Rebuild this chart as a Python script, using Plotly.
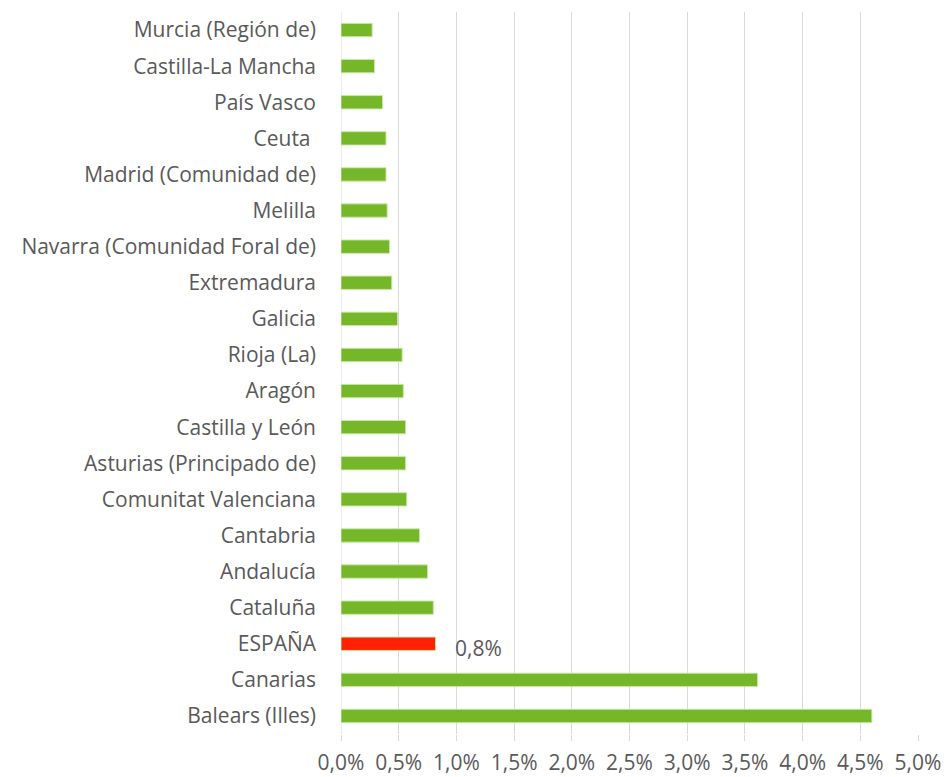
import plotly.graph_objects as go

regions = [
    "Murcia (Región de)", "Castilla-La Mancha", "País Vasco", "Ceuta ",
    "Madrid (Comunidad de)", "Melilla", "Navarra (Comunidad Foral de)",
    "Extremadura", "Galicia", "Rioja (La)", "Aragón", "Castilla y León",
    "Asturias (Principado de)", "Comunitat Valenciana", "Cantabria",
    "Andalucía", "Cataluña", "ESPAÑA", "Canarias", "Balears (Illes)",
]
values = [0.27, 0.29, 0.36, 0.39, 0.39, 0.40, 0.42, 0.44, 0.49, 0.53,
          0.54, 0.56, 0.56, 0.57, 0.68, 0.75, 0.80, 0.82, 3.61, 4.60]
highlight = "ESPAÑA"
highlight_label = "0,8%"
x_ticks = [0, 0.5, 1, 1.5, 2, 2.5, 3, 3.5, 4, 4.5, 5]
x_ticktext = [f"{v:.1f}%".replace(".", ",") for v in x_ticks]

GREEN = "#76B72A"
RED = "#FF2200"
TEXT = "#595959"
FONT = "Open Sans, sans-serif"
colors = [RED if r == highlight else GREEN for r in regions]

fig = go.Figure(go.Bar(
    y=regions, x=values, orientation="h",
    marker=dict(color=colors, line=dict(color="rgba(200,235,170,0.9)", width=1)),
    width=0.37,
))

hi = regions.index(highlight)
fig.add_annotation(x=values[hi], y=regions[hi], text=highlight_label,
                   xanchor="left", xshift=17, yshift=-4, showarrow=False,
                   font=dict(family=FONT, size=21, color=TEXT))

fig.update_layout(
    width=948, height=777,
    margin=dict(l=341, r=30, t=12, b=43),
    plot_bgcolor="white", paper_bgcolor="white",
    showlegend=False,
    font=dict(family=FONT, size=21, color=TEXT),
)
fig.update_xaxes(
    range=[0, 5], tickvals=x_ticks, ticktext=x_ticktext,
    showgrid=True, gridcolor="#D9D9D9", gridwidth=1,
    zeroline=False, ticks="outside", ticklen=6, tickcolor="#D9D9D9",
    ticklabelstandoff=4, showline=False, fixedrange=True, automargin=False,
)
fig.update_yaxes(
    categoryorder="array", categoryarray=regions, autorange="reversed",
    showgrid=False, zeroline=False, ticks="", ticklabelstandoff=24,
    automargin=False,
)
fig.add_shape(type="line", xref="x", yref="paper", x0=0, x1=0, y0=0, y1=1,
              line=dict(color="#D9D9D9", width=1), layer="below")

fig.write_html("out.html")
